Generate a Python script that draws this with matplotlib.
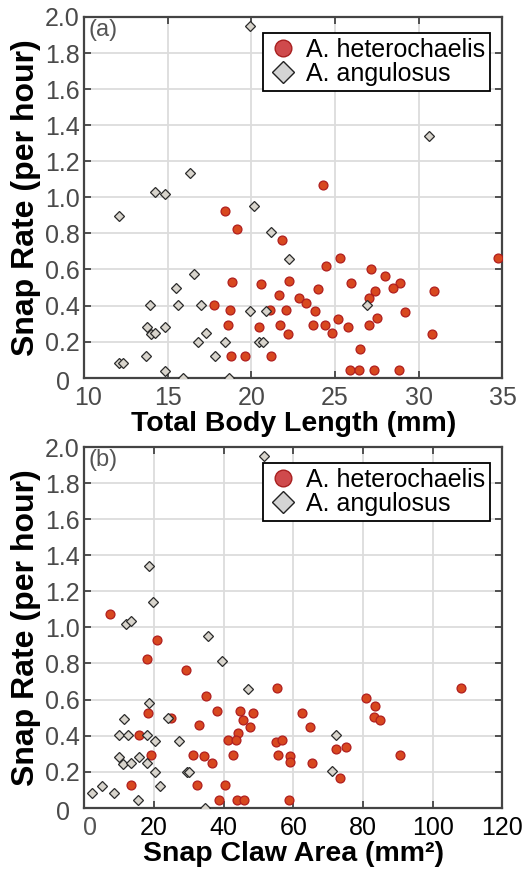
"""
Snap rate vs body length and snap claw area for two Alpheus species.
"""

import matplotlib
matplotlib.use('Agg')
import matplotlib.pyplot as plt
import matplotlib.transforms as mtransforms

plt.rcParams['font.family'] = ['Liberation Sans', 'DejaVu Sans']

# ---- panel (a): total body length (mm) vs snap rate (per hour)
het_len = [18.40, 19.14, 21.83, 24.28, 18.84, 20.57, 22.23, 22.85, 21.63, 17.74,
           18.74, 21.09, 22.09, 18.60, 20.47, 21.73, 22.16, 18.78, 19.59, 21.17,
           25.31, 24.48, 27.17, 27.96, 25.95, 28.86, 28.44, 30.93, 27.36, 23.96,
           23.26, 27.05, 23.78, 29.20, 23.68, 24.38, 25.18, 25.78, 27.05, 27.51,
           24.82, 30.80, 26.51, 25.87, 26.43, 27.35, 28.80, 34.72]
het_rate_a = [0.926, 0.824, 0.765, 1.070, 0.533, 0.522, 0.537, 0.444, 0.459, 0.404,
              0.376, 0.376, 0.376, 0.293, 0.283, 0.293, 0.243, 0.122, 0.122, 0.122,
              0.663, 0.617, 0.604, 0.563, 0.524, 0.524, 0.498, 0.483, 0.483, 0.494,
              0.413, 0.444, 0.372, 0.363, 0.291, 0.291, 0.324, 0.283, 0.293, 0.333,
              0.250, 0.243, 0.161, 0.043, 0.043, 0.043, 0.043, 0.663]

ang_len = [19.93, 30.63, 14.26, 14.81, 16.35, 12.12, 20.13, 21.17, 22.27, 16.55,
           15.51, 13.92, 15.61, 16.99, 19.93, 20.89, 13.76, 14.81, 14.02, 14.26,
           17.29, 16.81, 18.44, 20.43, 20.67, 13.70, 17.84, 12.12, 12.32, 14.85,
           15.91, 18.64, 26.91]
ang_rate_a = [1.950, 1.340, 1.030, 1.020, 1.135, 0.894, 0.950, 0.810, 0.660, 0.574,
              0.497, 0.404, 0.404, 0.404, 0.372, 0.372, 0.283, 0.283, 0.243, 0.247,
              0.247, 0.200, 0.200, 0.200, 0.200, 0.122, 0.122, 0.080, 0.080, 0.037,
              0.000, 0.000, 0.404]

# ---- panel (b): snap claw area (mm^2) vs snap rate (per hour)
het_area = [7.46, 21.0, 17.96, 29.26, 55.2, 34.96, 18.4, 38.0, 44.7, 48.6,
            45.6, 24.85, 33.0, 47.7, 44.2, 15.76, 41.2, 43.5, 55.1, 56.9,
            19.1, 31.3, 34.5, 36.7, 42.8, 55.7, 59.0, 59.2, 13.47, 32.3,
            40.5, 38.7, 43.9, 45.8, 58.8, 108.0, 80.8, 83.4, 83.1, 84.9,
            62.5, 64.8, 72.4, 75.1, 90.5, 65.3, 73.4]
het_rate_b = [1.074, 0.928, 0.826, 0.765, 0.665, 0.619, 0.526, 0.539, 0.539, 0.526,
              0.485, 0.497, 0.458, 0.448, 0.413, 0.404, 0.376, 0.376, 0.367, 0.376,
              0.294, 0.294, 0.286, 0.247, 0.294, 0.293, 0.287, 0.252, 0.124, 0.124,
              0.124, 0.044, 0.044, 0.044, 0.044, 0.665, 0.606, 0.565, 0.502, 0.485,
              0.526, 0.448, 0.326, 0.336, 0.294, 0.247, 0.165]

ang_area = [51.7, 18.65, 19.7, 11.96, 13.4, 35.67, 39.5, 47.1, 18.62, 11.55,
            24.2, 10.03, 12.5, 18.15, 20.34, 27.3, 10.1, 11.27, 13.55, 15.85,
            18.15, 20.4, 29.6, 30.2, 2.4, 5.24, 8.5, 21.7, 15.6, 34.7,
            72.2, 71.1]
ang_rate_b = [1.950, 1.343, 1.139, 1.019, 1.033, 0.950, 0.811, 0.659, 0.582, 0.494,
              0.497, 0.404, 0.404, 0.404, 0.372, 0.372, 0.283, 0.243, 0.247, 0.283,
              0.247, 0.200, 0.200, 0.200, 0.080, 0.122, 0.082, 0.122, 0.041, 0.000,
              0.406, 0.206]

y_ticks = [0, 0.2, 0.4, 0.6, 0.8, 1.0, 1.2, 1.4, 1.6, 1.8, 2.0]
y_labels = ['0', '0.2', '0.4', '0.6', '0.8', '1.0', '1.2', '1.4', '1.6', '1.8', '2.0']


def shift(label, dx, dy):
    # nudge a tick label by dx, dy pixels
    label.set_transform(label.get_transform() +
                        mtransforms.ScaledTranslation(dx / 100, dy / 100, fig.dpi_scale_trans))


def style_axes(ax, xlim, xticks, xlabel, tag, xlab_color):
    ax.set_xlim(xlim)
    ax.set_ylim(0, 2.0)
    ax.set_xticks(xticks)
    ax.set_yticks(y_ticks, y_labels)
    ax.grid(True, color='#dcdcdc', linewidth=1.3)
    ax.set_axisbelow(True)
    for s in ax.spines.values():
        s.set_color('#444444')
        s.set_linewidth(1.6)
    ax.tick_params(direction='in', length=5, width=1.3, color='#444444',
                   top=True, right=True, labelsize=18)
    ax.tick_params(axis='y', labelcolor='#4a4a4a', pad=3)
    ax.tick_params(axis='x', labelcolor=xlab_color, pad=6)
    ax.set_xlabel(xlabel, fontsize=20.5, fontweight='bold', labelpad=1)
    ax.set_ylabel('Snap Rate (per hour)', fontsize=23, fontweight='bold', labelpad=3)
    ax.text(0.01, 0.995, tag, transform=ax.transAxes, ha='left', va='top',
            fontsize=17, color='#555555')
    shift(ax.get_yticklabels()[0], -10, -3)


def draw(ax, hx, hy, ax_, ay):
    ax.plot(hx, hy, 'o', ms=6.4, mfc='#d8481f', mec='#b01e1e', mew=0.9,
            linestyle='none', zorder=3)
    ax.plot(ax_, ay, 'D', ms=5.6, mfc='#d8d4cc', mec='#2a2a2a', mew=0.9,
            linestyle='none', zorder=4)
    # legend proxies
    h1, = ax.plot([], [], 'o', ms=12, mfc='#cf4a4c', mec='#a82020', mew=1.0,
                  linestyle='none', label='A. heterochaelis')
    h2, = ax.plot([], [], 'D', ms=11, mfc='#d4d4d4', mec='#222222', mew=1.0,
                  linestyle='none', label='A. angulosus')
    leg = ax.legend(handles=[h1, h2], loc='upper right', bbox_to_anchor=(0.97, 0.956),
                    fontsize=18, frameon=True, fancybox=False, framealpha=1,
                    edgecolor='black', borderpad=0.2, labelspacing=0.0,
                    handletextpad=0.3, handlelength=1.2, borderaxespad=0)
    leg.get_frame().set_linewidth(1.3)


fig = plt.figure(figsize=(5.27, 8.73), dpi=100)
ax1 = fig.add_axes([0.1594, 0.5674, 0.7941, 0.4132])
ax2 = fig.add_axes([0.1594, 0.0748, 0.7941, 0.4130])

draw(ax1, het_len, het_rate_a, ang_len, ang_rate_a)
style_axes(ax1, (10, 35), [10, 15, 20, 25, 30, 35], 'Total Body Length (mm)', '(a)', '#4a4a4a')
shift(ax1.get_xticklabels()[0], 4, 0)

draw(ax2, het_area, het_rate_b, ang_area, ang_rate_b)
style_axes(ax2, (0, 120), [0, 20, 40, 60, 80, 100, 120], 'Snap Claw Area (mm²)', '(b)', 'black')
ax2.get_xticklabels()[0].set_color('#555555')
shift(ax2.get_xticklabels()[0], 6, 0)

fig.savefig('out.png', dpi=100)
